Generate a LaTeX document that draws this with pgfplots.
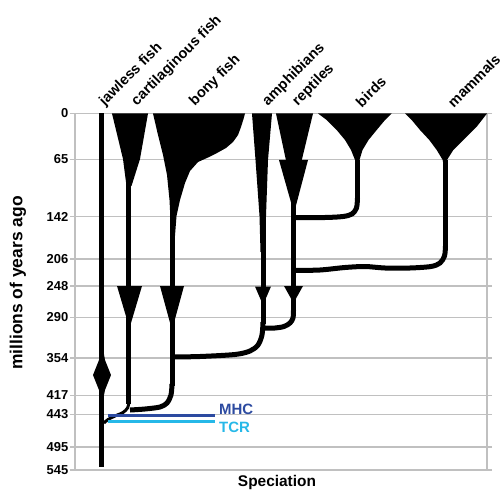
\documentclass[border=0pt]{standalone}
\usepackage{fontspec}
\setmainfont{Liberation Sans}
\usepackage{pgfplots}
\pgfplotsset{compat=1.18}
\definecolor{gridgray}{RGB}{192,192,192}
\definecolor{mhcblue}{RGB}{44,74,160}
\definecolor{tcrblue}{RGB}{38,184,232}
\newcommand{\lbl}{\bfseries\fontsize{15.5}{16}\selectfont}
\begin{document}
\begin{tikzpicture}
\begin{axis}[
    width=412bp, height=356.5bp, scale only axis,
    xmin=75, xmax=487, ymin=113.5, ymax=470, y dir=reverse,
    clip=false, no markers,
    axis line style={draw=gridgray, line width=1.2bp},
    ymajorgrids, grid style={draw=gridgray, line width=1.2bp},
    ytick={113.5,159.5,216.5,259,286,317.5,358,395.5,414.5,447,470},
    yticklabels={0,65,142,206,248,290,354,417,443,495,545},
    tick align=outside, major tick length=5bp,
    y tick style={draw=gridgray, line width=1.2bp},
    yticklabel style={font=\bfseries\fontsize{13}{13}\selectfont, inner sep=1.5bp},
    xtick={107,139,197,270,300,362,454},
    xticklabels={jawless fish,cartilaginous fish,bony fish,amphibians,reptiles,birds,mammals},
    xticklabel pos=upper,
    x tick style={draw=none},
    xticklabel style={rotate=45, anchor=south west, inner sep=0pt, font=\bfseries\fontsize{14.6}{15}\selectfont},
    xlabel={Speciation},
    xlabel style={at={(axis cs:277,483)}, anchor=center, font=\lbl},
    ylabel={millions of years ago},
    ylabel style={at={(axis cs:18,283)}, anchor=center, font=\bfseries\fontsize{17.5}{18}\selectfont},
]
% jawless fish
\addplot[black, line width=5bp] coordinates {(102,113.5) (102,467)};
\addplot[fill=black, draw=none] coordinates {(102,343) (105,360) (111,375) (105,390) (102,405) (99,390) (93,375) (99,360)} -- cycle;

% cartilaginous fish
\addplot[fill=black, draw=none] coordinates {(112,113.5) (148,113.5) (140,159) (131.5,186) (126.5,186) (123,159)} -- cycle;
\addplot[black, line width=5bp] coordinates {(129,150) (129,404)};
\addplot[fill=black, draw=none] coordinates {(117,286) (142,286) (129.5,328)} -- cycle;
\addplot[black, line width=3bp, smooth, line join=round] coordinates {(129,402) (127.5,408) (123,412.5) (115,416) (108,419.5) (104,423)};

% bony fish
\addplot[fill=black, draw=none] coordinates {
    (153,113.5) (158,135) (163,155) (167,175) (169.5,200) (170.5,220) (171,242)
    (174.5,242) (176.5,216) (180,200) (185,183) (190,171) (198,162) (208,157.5)
    (217,153) (226,148) (233,142) (238,135) (241,127) (243.5,119) (245,113.5)} -- cycle;
\addplot[black, line width=5bp] coordinates {(172,200) (172,386)};
\addplot[fill=black, draw=none] coordinates {(160,286) (184,286) (172,330)} -- cycle;
\addplot[black, line width=5bp, smooth, line join=round] coordinates {(172,384) (171,395) (167,403) (160,407) (145,409) (130,410)};

% amphibians
\addplot[fill=black, draw=none] coordinates {(252,113.5) (272,113.5) (268,160) (266,216) (265.5,252) (260.5,252) (259.5,216) (255.5,160)} -- cycle;
\addplot[black, line width=5bp] coordinates {(263,200) (263,324)};
\addplot[fill=black, draw=none] coordinates {(255,286.5) (271,286.5) (263,305)} -- cycle;
\addplot[black, line width=5bp, smooth, line join=round] coordinates {(263,322) (262,335) (258,345) (250,351) (235,354.5) (200,356.5) (172,357)};

% reptiles
\addplot[fill=black, draw=none] coordinates {(276,113.5) (313,113.5) (296,184) (291,184)} -- cycle;
\addplot[fill=black, draw=none] coordinates {(279,160) (308,160) (294,213)} -- cycle;
\addplot[black, line width=5bp] coordinates {(293.5,180) (293.5,312)};
\addplot[fill=black, draw=none] coordinates {(284,286) (303,286) (293.5,303)} -- cycle;
\addplot[black, line width=5bp, smooth, line join=round] coordinates {(293.5,310) (293,318) (290,323) (284,326.5) (275,328) (263,328)};

% birds
\addplot[fill=black, draw=none] coordinates {
    (318,113.5) (326.7,120) (336.7,130) (345,140) (351,150) (355,160) (356,168)
    (359,168) (359.5,160) (362.5,150) (368.5,140) (376.7,130) (385,120) (391.7,113.5)} -- cycle;
\addplot[black, line width=5bp] coordinates {(357.5,160) (357.5,200)};
\addplot[black, line width=5bp, smooth, line join=round] coordinates {(357.5,198) (356.5,208) (352,214) (343,216.5) (325,217.5) (293.5,217.5)};

% mammals
\addplot[fill=black, draw=none] coordinates {
    (405,113.5) (411.7,120) (420,130) (429.3,140) (436.7,150) (442.7,160) (444,168)
    (447,168) (447,160) (453.3,150) (463.3,140) (476.7,126.7) (487,113.5)} -- cycle;
\addplot[black, line width=5bp] coordinates {(445.5,160) (445.5,248)};
\addplot[black, line width=5bp, smooth, line join=round] coordinates {(445.5,246) (444.5,256) (440,263) (431,266.5) (410,268) (385,268) (365,266.5) (345,267.5) (320,270) (293.5,270.5)};

% MHC / TCR
\addplot[mhcblue, line width=3bp] coordinates {(108,415) (215,415)};
\addplot[tcrblue, line width=3bp] coordinates {(108,421.5) (215,421.5)};
\node[anchor=west, inner sep=0pt, text=mhcblue, font=\bfseries\fontsize{15}{15}\selectfont] at (axis cs:219,409.5) {MHC};
\node[anchor=west, inner sep=0pt, text=tcrblue, font=\bfseries\fontsize{15}{15}\selectfont] at (axis cs:219,427.5) {TCR};

\coordinate (bbA) at (axis cs:0,495);
\coordinate (bbB) at (axis cs:502,0);
\end{axis}
\pgfresetboundingbox
\useasboundingbox (bbA) rectangle (bbB);
\end{tikzpicture}
\end{document}
